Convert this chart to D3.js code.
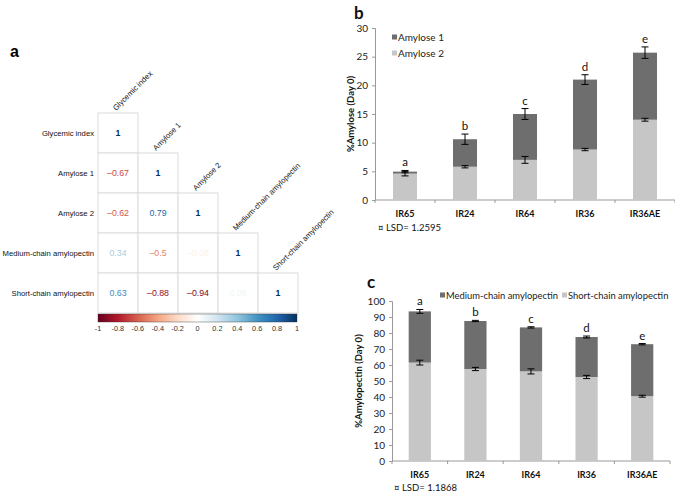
<!DOCTYPE html>
<html><head><meta charset="utf-8">
<script src="https://cdn.jsdelivr.net/npm/d3@7"></script>
<style>body{margin:0;background:#fff}svg{display:block}</style>
</head><body>
<svg id="c" width="675" height="493"></svg>
<script>
// ---------- Data ----------
const corrVars = ["Glycemic index","Amylose 1","Amylose 2","Medium-chain amylopectin","Short-chain amylopectin"];
const corrRows = [
  [1],
  [-0.67, 1],
  [-0.62, 0.79, 1],
  [0.34, -0.5, -0.08, 1],
  [0.63, -0.88, -0.94, 0.08, 1]
];
const colorbarTicks = [-1,-0.8,-0.6,-0.4,-0.2,0,0.2,0.4,0.6,0.8,1];
const rdbu = ["#67001F","#B2182B","#D6604D","#F4A582","#FDDBC7","#FFFFFF","#D1E5F0","#92C5DE","#4393C3","#2166AC","#053061"];

const cultivars = ["IR65","IR24","IR64","IR36","IR36AE"];
const amylose1 = [0.35, 4.8, 8.0, 12.2, 11.7];
const amylose2 = [4.6, 5.8, 7.0, 8.8, 14.0];
const amylose1Err = [0.2, 0.9, 0.95, 0.85, 1.0];
const amylose2Err = [0.4, 0.2, 0.6, 0.2, 0.25];
const amyloseLetters = ["a","b","c","d","e"];
const amyloseTicks = [0,5,10,15,20,25,30];

const mediumChain = [32.0, 30.0, 27.5, 25.0, 32.5];
const shortChain = [61.5, 57.5, 56.0, 52.5, 40.5];
const mediumErr = [1.2, 0.4, 0.4, 0.6, 0.4];
const shortErr = [1.5, 1.0, 1.6, 1.0, 0.6];
const pectinLetters = ["a","b","c","d","e"];
const pectinTicks = [0,10,20,30,40,50,60,70,80,90,100];

const DARK = "#6e6e6e", LIGHT = "#c6c6c6";
const svg = d3.select("#c");
svg.append("rect").attr("width",675).attr("height",493).attr("fill","#fff");

// ---------- Panel a ----------
(function(){
  const g = svg.append("g");
  const F = "Liberation Sans, Arial, sans-serif";
  const cell = d3.scaleBand().domain(d3.range(corrVars.length)).range([98, 298]);
  const cellY = d3.scaleBand().domain(d3.range(corrVars.length)).range([113, 313]);
  const col = d3.scaleLinear().domain(colorbarTicks).range(rdbu);
  const fmt = v => v === 1 ? "1" : (v < 0 ? "\u2013" : "") + String(Math.abs(v));
  g.append("text").attr("x",10).attr("y",57).text("a")
    .attr("font-family",F).attr("font-weight","bold").attr("font-size",16);
  corrRows.forEach((row,i)=>{
    row.forEach((v,j)=>{
      g.append("rect").attr("x",cell(j)).attr("y",cellY(i)).attr("width",cell.bandwidth()).attr("height",cellY.bandwidth())
        .attr("fill","#fff").attr("stroke","#dcdcdc").attr("stroke-width",1);
    });
  });
  corrRows.forEach((row,i)=>{
    row.forEach((v,j)=>{
      g.append("text").attr("x",cell(j)+cell.bandwidth()/2).attr("y",cellY(i)+cellY.bandwidth()/2)
        .attr("text-anchor","middle").attr("dominant-baseline","central")
        .attr("font-family",F).attr("font-size",8.8)
        .attr("font-weight", v===1 ? "bold" : "normal")
        .attr("fill", col(v)).text(fmt(v));
    });
    g.append("text").attr("x",94).attr("y",cellY(i)+cellY.bandwidth()/2)
      .attr("text-anchor","end").attr("dominant-baseline","central")
      .attr("font-family",F).attr("font-size",7.7).attr("fill","#111")
      .text(corrVars[i]);
    const x0 = cell(i)+cell.bandwidth()/2-2, y0 = cellY(i)-2;
    g.append("text").attr("transform",`translate(${x0},${y0}) rotate(-45)`)
      .attr("font-family",F).attr("font-size",7.7).attr("fill","#111")
      .text(corrVars[i]);
  });
  // colorbar
  const cb = d3.scaleLinear().domain([-1,1]).range([98,297]);
  const defs = svg.append("defs");
  const grad = defs.append("linearGradient").attr("id","cbg");
  colorbarTicks.forEach((t,k)=>grad.append("stop").attr("offset",(k/(colorbarTicks.length-1)*100)+"%").attr("stop-color",rdbu[k]));
  g.append("rect").attr("x",cb(-1)).attr("y",314).attr("width",cb(1)-cb(-1)).attr("height",8)
    .attr("fill","url(#cbg)").attr("stroke","#333").attr("stroke-width",0.4);
  colorbarTicks.forEach(t=>{
    g.append("text").attr("x",cb(t)).attr("y",331).attr("text-anchor","middle")
      .attr("font-family",F).attr("font-size",7.3).attr("fill","#333")
      .text(t===0?"0":(t<0?"-":"")+String(Math.abs(t)));
  });
})();

// ---------- Stacked bar helper ----------
function stacked(opts){
  const g = svg.append("g");
  const x = d3.scaleBand().domain(cultivars).range(opts.xr).paddingInner(0.6).paddingOuter(0.3);
  const y = d3.scaleLinear().domain(opts.yd).range(opts.yr);
  const font = "Lato, 'Open Sans', sans-serif";
  const ya = g.append("g").attr("transform",`translate(${opts.xr[0]},0)`)
    .call(d3.axisLeft(y).tickValues(opts.ticks).tickSize(3).tickPadding(4));
  ya.select(".domain").attr("stroke","#999");
  ya.selectAll(".tick line").attr("stroke","#999");
  ya.selectAll("text").attr("font-family",font).attr("font-size",10).attr("fill","#222");
  g.append("line").attr("x1",opts.xr[0]).attr("x2",opts.xr[1]).attr("y1",y(0)).attr("y2",y(0)).attr("stroke","#999");
  const bounds = cultivars.map(c=>x(c)-x.step()*0.3).concat([opts.xr[1]]);
  bounds.forEach(b=>g.append("line").attr("x1",b).attr("x2",b).attr("y1",y(0)).attr("y2",y(0)+3).attr("stroke","#999"));
  cultivars.forEach((c,i)=>{
    const bx = x(c), bw = x.bandwidth(), cx = bx+bw/2;
    const low = opts.low[i], high = opts.high[i], tot = low+high;
    g.append("rect").attr("x",bx).attr("width",bw).attr("y",y(low)).attr("height",y(0)-y(low)).attr("fill",LIGHT);
    g.append("rect").attr("x",bx).attr("width",bw).attr("y",y(tot)).attr("height",y(low)-y(tot)).attr("fill",DARK);
    [[low,opts.lowErr[i]],[tot,opts.highErr[i]]].forEach(([v,e])=>{
      const e1 = y(v+e), e2 = y(v-e);
      g.append("line").attr("x1",cx).attr("x2",cx).attr("y1",e1).attr("y2",e2).attr("stroke","#000").attr("stroke-width",1);
      [e1,e2].forEach(yy=>g.append("line").attr("x1",cx-3.5).attr("x2",cx+3.5).attr("y1",yy).attr("y2",yy).attr("stroke","#000").attr("stroke-width",1));
    });
    g.append("text").attr("x",cx).attr("y",y(tot+opts.highErr[i])-4).attr("text-anchor","middle")
      .attr("font-family",font).attr("font-size",11.5).attr("fill","#111").text(opts.letters[i]);
    g.append("text").attr("x",cx).attr("y",opts.catY).attr("text-anchor","middle").attr("dominant-baseline","central")
      .attr("font-family",font).attr("font-weight","bold").attr("font-size",9).attr("fill","#111").text(c);
  });
  g.append("text").attr("x",opts.lsdX).attr("y",opts.lsdY).attr("dominant-baseline","central")
    .attr("font-family",font).attr("font-size",9.5).attr("fill","#111").text(opts.lsd);
  g.append("text").attr("transform",`translate(${opts.titleX},${(opts.yr[0]+opts.yr[1])/2}) rotate(-90)`)
    .attr("text-anchor","middle").attr("dominant-baseline","central")
    .attr("font-family",font).attr("font-weight","bold").attr("font-size",9.5).attr("fill","#111").text(opts.title);
  g.append("text").attr("x",opts.panel[0]).attr("y",opts.panel[1]).attr("dominant-baseline","central")
    .attr("font-family",font).attr("font-weight","bold").attr("font-size",17).attr("fill","#111").text(opts.panel[2]);
  opts.legend.forEach(L=>{
    g.append("rect").attr("x",L.x).attr("y",L.y-2.5).attr("width",5).attr("height",5).attr("fill",L.c);
    g.append("text").attr("x",L.x+6).attr("y",L.y).attr("dominant-baseline","central")
      .attr("font-family",font).attr("font-size",opts.legendSize).attr("fill","#222").text(L.t);
  });
}

stacked({xr:[375,675], yd:[0,30], yr:[200,28], ticks:amyloseTicks,
  low:amylose2, high:amylose1, lowErr:amylose2Err, highErr:amylose1Err, letters:amyloseLetters,
  catY:213, lsd:"\u00A4 LSD= 1.2595", lsdX:378, lsdY:227, title:"%Amylose (Day 0)", titleX:350,
  panel:[354,12,"b"], legendSize:10,
  legend:[{x:392,y:37,c:DARK,t:"Amylose 1"},{x:392,y:53,c:LIGHT,t:"Amylose 2"}]});

stacked({xr:[392,670], yd:[0,100], yr:[461,301], ticks:pectinTicks,
  low:shortChain, high:mediumChain, lowErr:shortErr, highErr:mediumErr, letters:pectinLetters,
  catY:474, lsd:"\u00A4 LSD= 1.1868", lsdX:394, lsdY:487, title:"%Amylopectin (Day 0)", titleX:358,
  panel:[367,281,"c"], legendSize:9.4,
  legend:[{x:440,y:295,c:DARK,t:"Medium-chain amylopectin"},{x:562,y:295,c:LIGHT,t:"Short-chain amylopectin"}]});
</script>
</body></html>
